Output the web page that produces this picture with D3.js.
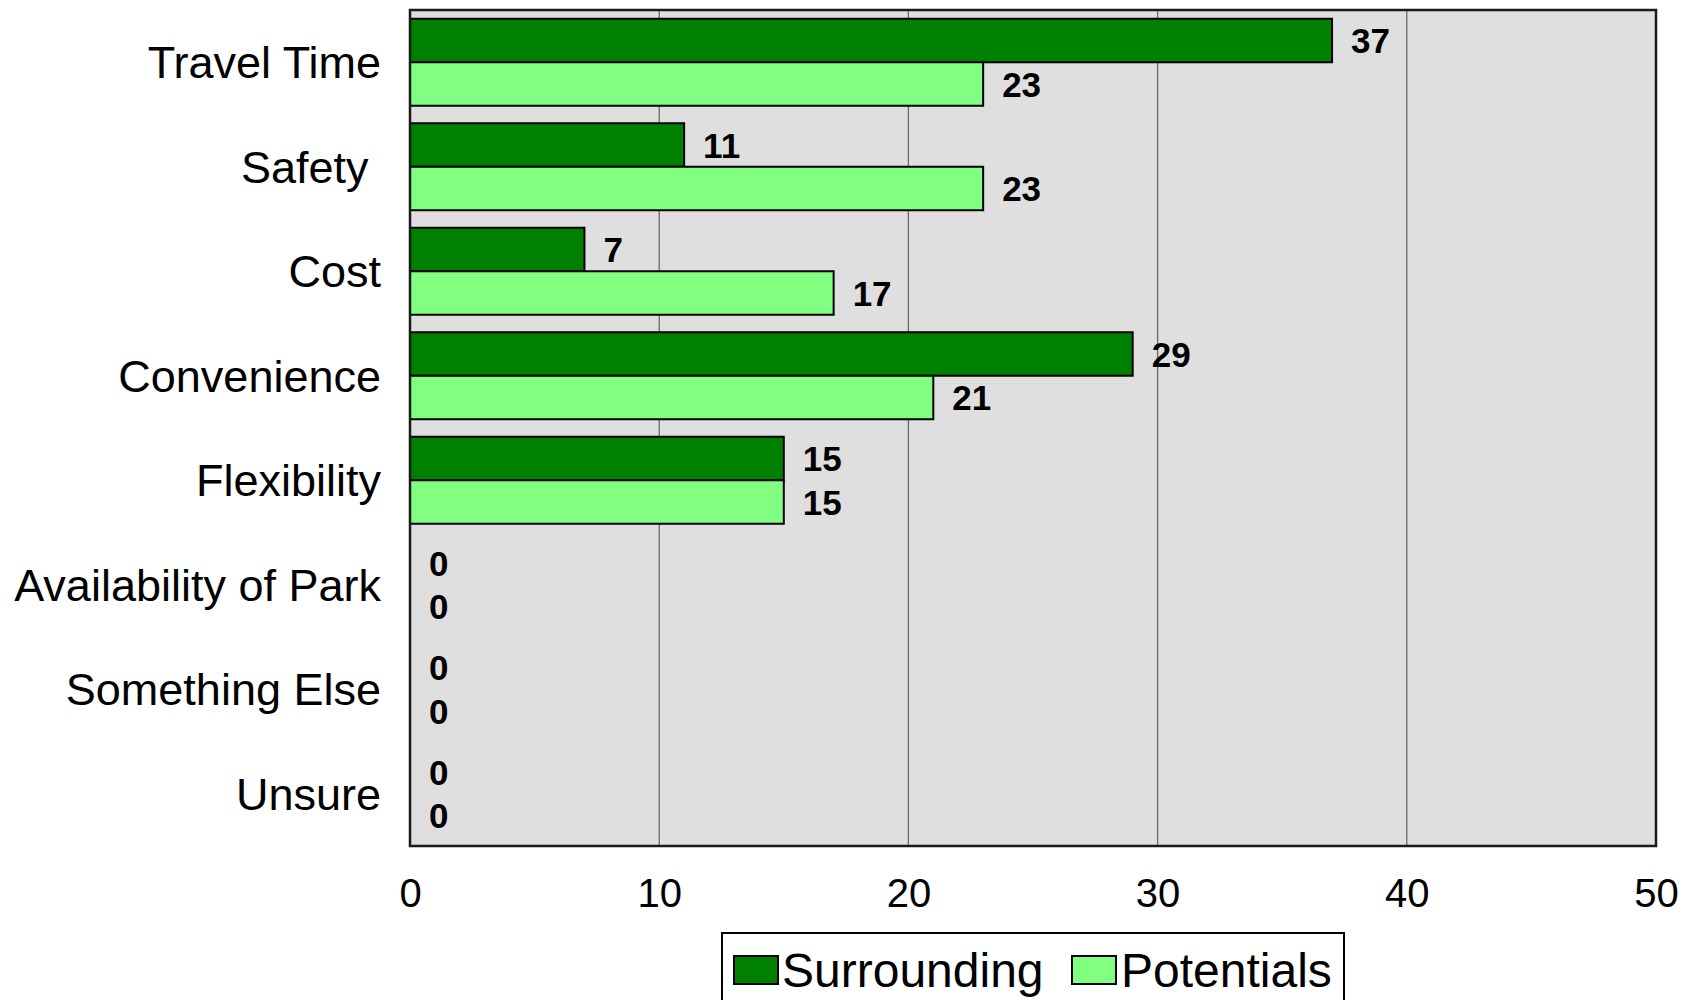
<!DOCTYPE html>
<html>
<head>
<meta charset="utf-8">
<script src="https://cdn.jsdelivr.net/npm/d3@7"></script>
<style>
  html, body { margin: 0; padding: 0; background: #ffffff; }
  svg { display: block; }
  text { font-family: "Liberation Sans", Arial, sans-serif; }
</style>
</head>
<body>
<svg id="chart" width="1682" height="1000"></svg>
<script>
// ---- data ----
const categories = ["Travel Time", "Safety ", "Cost", "Convenience", "Flexibility", "Availability of Park", "Something Else", "Unsure"];
const seriesNames = ["Surrounding", "Potentials"];
const surrounding = [37, 11, 7, 29, 15, 0, 0, 0];
const potentials  = [23, 23, 17, 21, 15, 0, 0, 0];
const xTicks = [0, 10, 20, 30, 40, 50];
const seriesColors = ["#008000", "#80ff80"];

const seriesValues = [surrounding, potentials];
const rows = categories.map((c, i) => ({ cat: c, values: seriesNames.map((s, j) => ({ series: s, idx: j, value: seriesValues[j][i] })) }));

// ---- layout ----
const svg = d3.select("#chart");
const plot = { left: 410, right: 1656, top: 10, bottom: 846 };

const x = d3.scaleLinear().domain([0, 50]).range([plot.left, plot.right]);
const y = d3.scaleBand().domain(categories).range([plot.top, plot.bottom])
  .paddingInner(0.1675).paddingOuter(0.08375);
const ySub = d3.scaleBand().domain(seriesNames).range([0, y.bandwidth()]);

// background
svg.append("rect")
  .attr("x", plot.left).attr("y", plot.top)
  .attr("width", plot.right - plot.left).attr("height", plot.bottom - plot.top)
  .attr("fill", "#dfdfdf");

// gridlines
svg.append("g").selectAll("line")
  .data(xTicks.filter(t => t > 0 && t < 50))
  .join("line")
  .attr("x1", d => x(d)).attr("x2", d => x(d))
  .attr("y1", plot.top).attr("y2", plot.bottom)
  .attr("stroke", "#6a6a6a").attr("stroke-width", 1.3);

// bars
const groups = svg.append("g").selectAll("g")
  .data(rows).join("g")
  .attr("transform", d => `translate(0,${y(d.cat)})`);

groups.selectAll("rect")
  .data(d => d.values).join("rect")
  .attr("x", x(0))
  .attr("y", d => ySub(d.series))
  .attr("width", d => x(d.value) - x(0))
  .attr("height", ySub.bandwidth())
  .attr("fill", d => seriesColors[d.idx])
  .attr("stroke", "#000").attr("stroke-width", 2);

groups.selectAll("text.val")
  .data(d => d.values).join("text")
  .attr("class", "val")
  .attr("x", d => x(d.value) + 19)
  .attr("y", d => ySub(d.series) + ySub.bandwidth() / 2)
  .attr("dy", "0.36em")
  .attr("font-size", 35)
  .attr("font-weight", "bold")
  .attr("fill", "#000")
  .text(d => d.value);

// plot border
svg.append("rect")
  .attr("x", plot.left).attr("y", plot.top)
  .attr("width", plot.right - plot.left).attr("height", plot.bottom - plot.top)
  .attr("fill", "none").attr("stroke", "#1a1a1a").attr("stroke-width", 2.5);

// x axis
const xAxis = d3.axisBottom(x).tickValues(xTicks).tickSize(0).tickPadding(0).tickFormat(d3.format("d"));
const gx = svg.append("g").attr("transform", `translate(0,${plot.bottom})`).call(xAxis);
gx.select(".domain").remove();
gx.selectAll("text")
  .attr("font-family", "'Liberation Sans', Arial, sans-serif")
  .attr("font-size", 40).attr("fill", "#000")
  .attr("dy", null).attr("y", 61);

// y axis
const yAxis = d3.axisLeft(y).tickSize(0).tickPadding(29);
const gy = svg.append("g").attr("transform", `translate(${plot.left},0)`).call(yAxis);
gy.select(".domain").remove();
gy.selectAll("text")
  .attr("font-family", "'Liberation Sans', Arial, sans-serif")
  .attr("font-size", 45).attr("fill", "#000")
  .attr("dy", "0.36em")
  .style("white-space", "pre");

// legend
const legend = svg.append("g");
legend.append("rect")
  .attr("x", 722).attr("y", 933).attr("width", 622).attr("height", 90)
  .attr("fill", "#fff").attr("stroke", "#000").attr("stroke-width", 2);
const legendItems = [
  { name: seriesNames[0], sx: 734, tx: 782 },
  { name: seriesNames[1], sx: 1072, tx: 1121 }
];
legendItems.forEach((it, i) => {
  legend.append("rect")
    .attr("x", it.sx).attr("y", 956).attr("width", 44).attr("height", 28)
    .attr("fill", seriesColors[i]).attr("stroke", "#000").attr("stroke-width", 2);
  legend.append("text")
    .attr("x", it.tx).attr("y", 987)
    .attr("font-size", 48).attr("fill", "#000")
    .text(it.name);
});
</script>
</body>
</html>
